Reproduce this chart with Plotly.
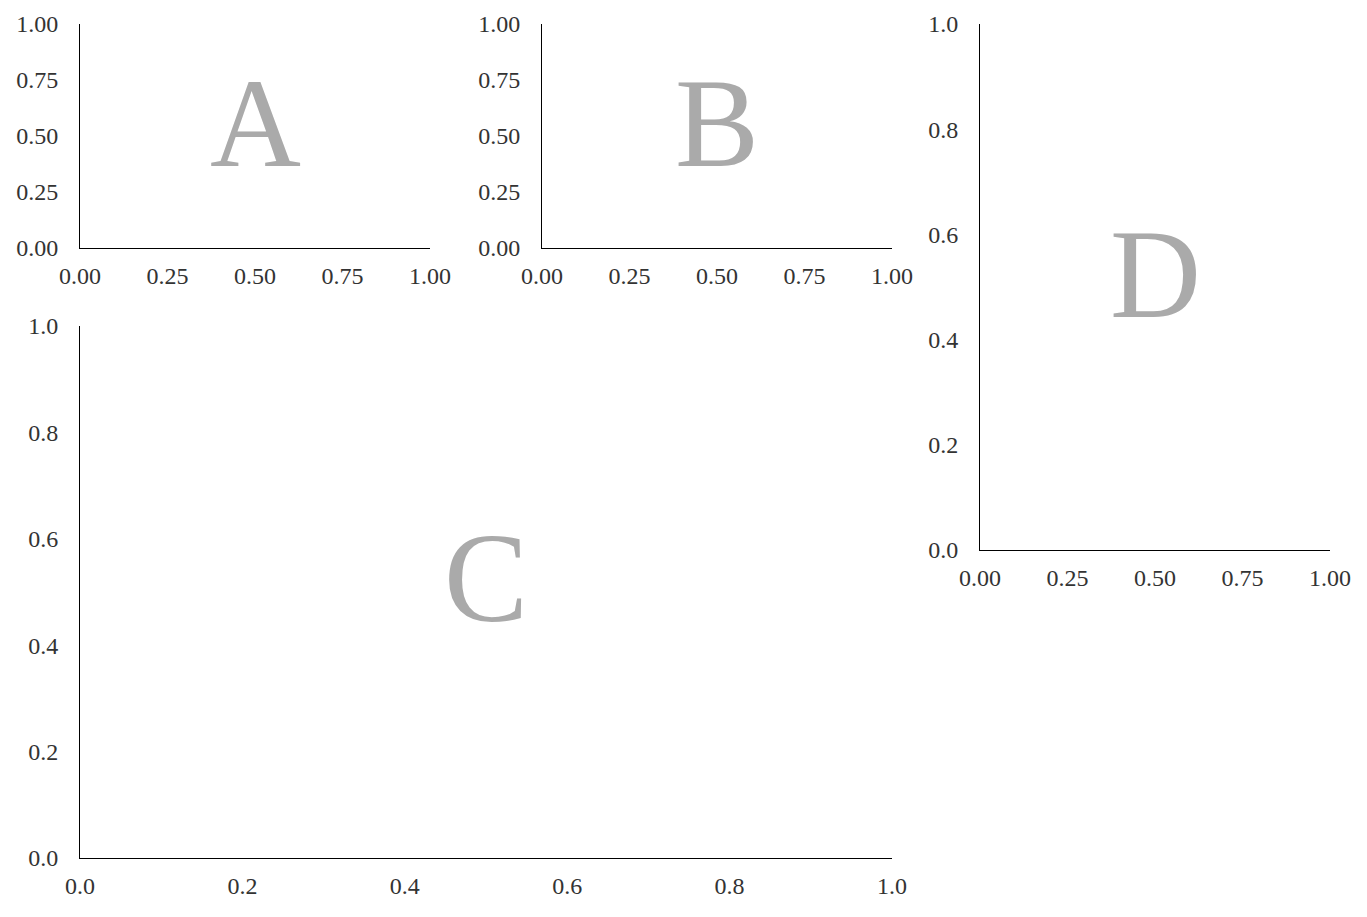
import plotly.graph_objects as go

panel_letters = ["A", "B", "C", "D"]
ticks_quarter = [0.0, 0.25, 0.5, 0.75, 1.0]
ticks_fifth = [0.0, 0.2, 0.4, 0.6, 0.8, 1.0]
axis_range = [0.0, 1.0]

# (x domain, y domain, x tick vals, x format, y tick vals, y format)
panels = {
    "A": ([0.0, 0.28], [0.7314, 1.0], ticks_quarter, ".2f", ticks_quarter, ".2f"),
    "B": ([0.3696, 0.6496], [0.7314, 1.0], ticks_quarter, ".2f", ticks_quarter, ".2f"),
    "C": ([0.0, 0.6496], [0.0, 0.6379], ticks_fifth, ".1f", ticks_fifth, ".1f"),
    "D": ([0.72, 1.0], [0.3693, 1.0], ticks_quarter, ".2f", ticks_fifth, ".1f"),
}

fig = go.Figure()
font_family = "Liberation Serif, Times New Roman, serif"
label_color = "#333333"

for i, name in enumerate(panel_letters):
    xd, yd, xt, xf, yt, yf = panels[name]
    sfx = "" if i == 0 else str(i + 1)
    xa = "x" + sfx
    ya = "y" + sfx
    fig.add_trace(go.Scatter(x=[], y=[], xaxis=xa, yaxis=ya, showlegend=False))
    common = dict(range=axis_range, showline=True, linecolor="black", linewidth=1,
                  showgrid=False, zeroline=False, ticks="", mirror=False,
                  tickfont=dict(family=font_family, size=24, color=label_color))
    fig.layout["xaxis" + sfx] = dict(domain=xd, anchor=ya, tickvals=xt, tickformat=xf,
                                     ticklabelstandoff=6, **common)
    fig.layout["yaxis" + sfx] = dict(domain=yd, anchor=xa, tickvals=yt, tickformat=yf,
                                     ticklabelstandoff=16, **common)
    fig.add_annotation(text=name, x=0.5, y=0.5, xref=xa + " domain", yref=ya + " domain",
                       showarrow=False, yshift=13,
                       font=dict(family=font_family, size=126, color="#aaaaaa"))

fig.update_layout(width=1367, height=917, margin=dict(l=80, r=37, t=24, b=59),
                  plot_bgcolor="white", paper_bgcolor="white")
fig.write_html("out.html")
